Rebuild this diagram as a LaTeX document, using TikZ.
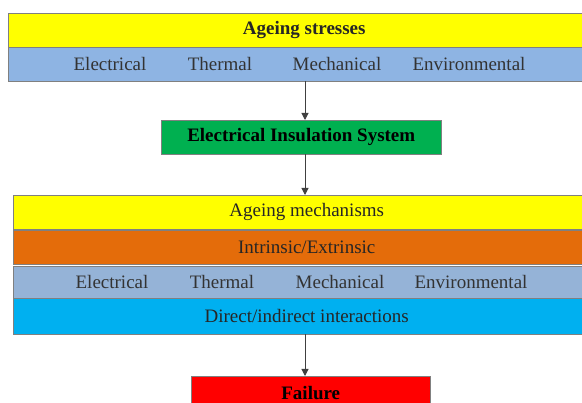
\documentclass[tikz,border=0pt]{standalone}
\usepackage{fontspec}
\setmainfont{Liberation Serif}
\usetikzlibrary{positioning, arrows.meta}

\definecolor{stressyellow}{HTML}{FFFF00}
\definecolor{stressblue}{HTML}{8EB4E3}
\definecolor{mechblue}{HTML}{95B3D7}
\definecolor{insgreen}{HTML}{00B050}
\definecolor{intorange}{HTML}{E46C0A}
\definecolor{intcyan}{HTML}{00B0F0}
\definecolor{failred}{HTML}{FF0000}

\begin{document}
\begin{tikzpicture}[
  x=1pt, y=-1pt,
  font=\fontsize{19}{21}\selectfont,
  band/.style={draw=black!50, line width=0.5pt, anchor=north west,
               inner sep=0pt, minimum height=34pt, text=black!85},
  box/.style={draw=black!50, line width=0.5pt, anchor=north west,
              inner sep=0pt, minimum height=34pt, font=\fontsize{19}{21}\selectfont\bfseries},
  word/.style={text=black!80},
  flow/.style={-{Triangle[length=7pt, width=7pt]}, draw=black!75, line width=1pt},
]
\useasboundingbox (0,0) rectangle (582,403);
\clip (0,0) rectangle (582,403);

% stresses
\node[band, fill=stressyellow, minimum width=592pt, font=\fontsize{19}{21}\selectfont\bfseries]
  (stress) at (8,13) {Ageing stresses};
\node[band, fill=stressblue, minimum width=592pt] (stressrow) at (8,47) {};
\node[word] (selec) at (110,64) {Electrical};
\node[word] (sther) at (220,64) {Thermal};
\node[word] (smech) at (337,64) {Mechanical};
\node[word] (senv) at (469,64) {Environmental};

% insulation system
\node[box, fill=insgreen, minimum width=280pt] (ins) at (161,120) {Electrical Insulation System};

% mechanisms
\node[band, fill=stressyellow, minimum width=587pt] (mech) at (13,195) {Ageing mechanisms};
\node[band, fill=intorange, minimum width=587pt] (intr) at (13,230) {Intrinsic/Extrinsic};
\node[band, fill=mechblue, minimum width=587pt, minimum height=32pt] (mechrow) at (13,266) {};
\node[word] (melec) at (112,282) {Electrical};
\node[word] (mther) at (222,282) {Thermal};
\node[word] (mmech) at (340,282) {Mechanical};
\node[word] (menv) at (471,282) {Environmental};
\node[band, fill=intcyan, minimum width=587pt, minimum height=36pt] (inter) at (13,298) {Direct/indirect interactions};

% failure
\node[box, fill=failred, minimum width=239pt] (fail) at (191,376) {Failure};

\coordinate (axis) at (305,0);
\draw[flow] (stressrow.south -| axis) -- (ins.north -| axis);
\draw[flow] (ins.south -| axis) -- (mech.north -| axis);
\draw[flow] (inter.south -| axis) -- (fail.north -| axis);
\end{tikzpicture}
\end{document}
